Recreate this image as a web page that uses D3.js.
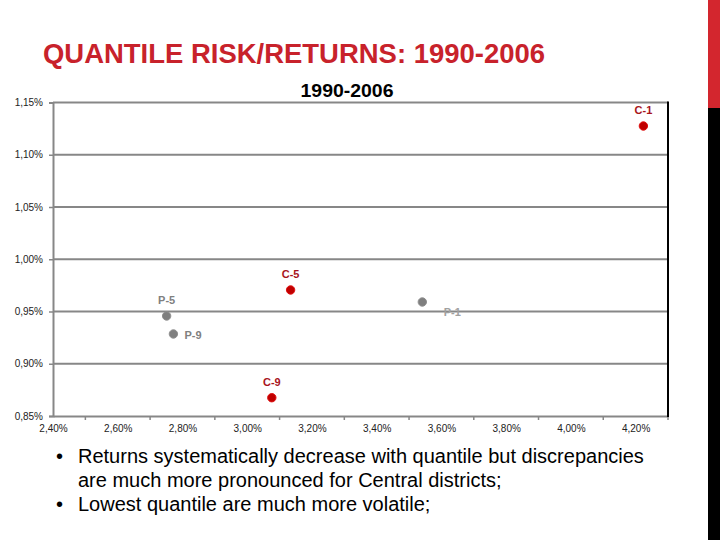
<!DOCTYPE html>
<html>
<head>
<meta charset="utf-8">
<script src="https://cdn.jsdelivr.net/npm/d3@7"></script>
<style>
  html, body { margin: 0; padding: 0; background: #fff; }
  svg { display: block; font-family: "Liberation Sans", Arial, sans-serif; }
</style>
</head>
<body>
<svg id="chart" width="720" height="540"></svg>
<script>
// ---- data ----
const categories = ["C-1", "C-5", "C-9", "P-1", "P-5", "P-9"];
const groups     = ["C", "C", "C", "P", "P", "P"];
const risk       = [4.224, 3.134, 3.076, 3.541, 2.751, 2.772];   // x, %
const returns    = [1.1275, 0.9706, 0.8675, 0.9591, 0.9457, 0.9285]; // y, %
const xTickValues = [2.4, 2.6, 2.8, 3.0, 3.2, 3.4, 3.6, 3.8, 4.0, 4.2];
const yTickValues = [0.85, 0.90, 0.95, 1.00, 1.05, 1.10, 1.15];
const title = "QUANTILE RISK/RETURNS: 1990-2006";
const chartTitle = "1990-2006";
const bullets = [
  ["Returns systematically decrease with quantile but discrepancies",
   "are much more pronounced for Central districts;"],
  ["Lowest quantile are much more volatile;"]
];

// ---- styles ----
const groupFill   = { C: "#c00000", P: "#7f7f7f" };
const groupStroke = { C: "#e01010", P: "#8f8f8f" };
const labelColor  = { C: "#a8141c", P: "#808080" };
// label placement (dx, dy, anchor) per category
const labelPlace = {
  "C-1": [0, -16, "middle"], "C-5": [0, -16, "middle"], "C-9": [0, -16, "middle"],
  "P-1": [30, 10, "middle"], "P-5": [0, -16, "middle"], "P-9": [11, 1, "start"]
};

const svg = d3.select("#chart");
const fmt = v => d3.format(".2f")(v).replace(".", ",") + "%";

const x = d3.scaleLinear().domain([2.4, 4.3]).range([53, 668]);
const y = d3.scaleLinear().domain([0.85, 1.15]).range([416, 102.5]);

// right decorative bar
svg.append("rect").attr("x", 708).attr("y", 0).attr("width", 12).attr("height", 108).attr("fill", "#d3262e");
svg.append("rect").attr("x", 708).attr("y", 108).attr("width", 12).attr("height", 432).attr("fill", "#000");

// slide title
svg.append("text").attr("x", 43).attr("y", 63)
  .attr("font-size", 27.5).attr("font-weight", "bold").attr("fill", "#c8222b")
  .attr("textLength", 502).attr("lengthAdjust", "spacingAndGlyphs")
  .text(title);

// chart title
svg.append("text").attr("x", 347).attr("y", 97).attr("text-anchor", "middle")
  .attr("font-size", 18).attr("font-weight", "bold").attr("fill", "#000")
  .attr("textLength", 93).attr("lengthAdjust", "spacingAndGlyphs")
  .text(chartTitle);

// gridlines
svg.append("g").selectAll("line").data(yTickValues.filter(v => v > 0.85)).join("line")
  .attr("x1", x(2.4)).attr("x2", x(4.3))
  .attr("y1", d => y(d)).attr("y2", d => y(d))
  .attr("stroke", "#878787").attr("stroke-width", 2);

// y axis
const yAxis = d3.axisLeft(y).tickValues(yTickValues).tickFormat(fmt).tickSize(4).tickPadding(6);
const gy = svg.append("g").attr("transform", `translate(${x(2.4)},0)`).call(yAxis);
gy.select(".domain").attr("stroke", "#878787").attr("stroke-width", 2);
gy.selectAll(".tick line").attr("stroke", "#878787").attr("stroke-width", 1.5);
gy.selectAll(".tick text").attr("font-size", 10).attr("fill", "#222").attr("font-family", "Liberation Sans, Arial, sans-serif");

// x axis (labels)
const xAxis = d3.axisBottom(x).tickValues(xTickValues).tickFormat(fmt).tickSize(0).tickPadding(9);
const gx = svg.append("g").attr("transform", `translate(0,${y(0.85)})`).call(xAxis);
gx.select(".domain").attr("stroke", "#878787").attr("stroke-width", 2);
gx.selectAll(".tick text").attr("font-size", 10).attr("fill", "#222").attr("font-family", "Liberation Sans, Arial, sans-serif");
// x minor tick marks (between labels)
svg.append("g").selectAll("line").data(xTickValues.map(v => v + 0.1)).join("line")
  .attr("x1", d => x(d)).attr("x2", d => x(d))
  .attr("y1", y(0.85)).attr("y2", y(0.85) + 4)
  .attr("stroke", "#878787").attr("stroke-width", 1.5);

// right border
svg.append("line").attr("x1", x(4.3)).attr("x2", x(4.3))
  .attr("y1", y(1.15) - 1).attr("y2", y(0.85) + 1)
  .attr("stroke", "#000").attr("stroke-width", 2);

// points
const pts = categories.map((c, i) => ({ c, g: groups[i], x: risk[i], y: returns[i] }));
svg.append("g").selectAll("circle").data(pts).join("circle")
  .attr("cx", d => x(d.x)).attr("cy", d => y(d.y)).attr("r", 4.2)
  .attr("fill", d => groupFill[d.g]).attr("stroke", d => groupStroke[d.g]).attr("stroke-width", 1);

// point labels
svg.append("g").selectAll("text").data(pts).join("text")
  .attr("x", d => x(d.x) + labelPlace[d.c][0])
  .attr("y", d => y(d.y) + labelPlace[d.c][1] + 4)
  .attr("text-anchor", d => labelPlace[d.c][2])
  .attr("font-size", 11).attr("font-weight", "bold")
  .attr("fill", d => d.c === "P-1" ? "#a0a0a0" : labelColor[d.g])
  .text(d => d.c);

// bullets
let lineY = 463;
bullets.forEach(b => {
  svg.append("text").attr("x", 56).attr("y", lineY).attr("font-size", 20).attr("fill", "#000").text("•");
  b.forEach(line => {
    svg.append("text").attr("x", 78).attr("y", lineY).attr("font-size", 20).attr("fill", "#000").text(line);
    lineY += 24;
  });
});
</script>
</body>
</html>
